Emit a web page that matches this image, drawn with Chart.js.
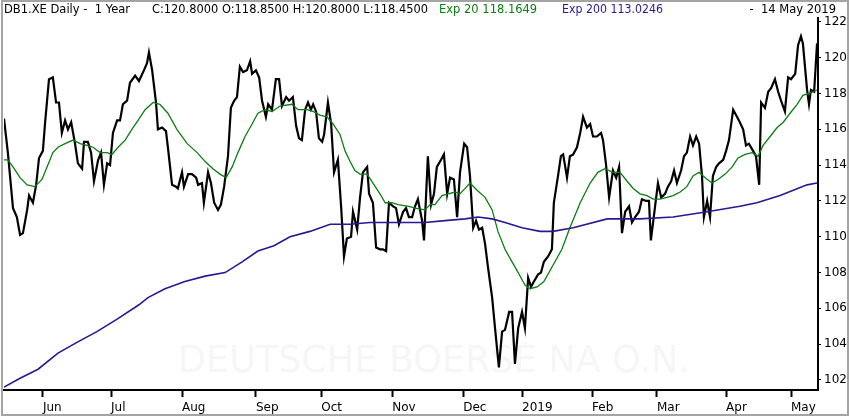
<!DOCTYPE html>
<html>
<head>
<meta charset="utf-8">
<script src="https://cdn.jsdelivr.net/npm/chart.js@4.4.1/dist/chart.umd.min.js"></script>
<style>
  html, body { margin: 0; padding: 0; background: #fff; }
  #wrap { width: 850px; height: 417px; position: relative; }
</style>
</head>
<body>
<div id="wrap"><canvas id="grafico" width="850" height="417"></canvas></div>
<script>
// trading day index (0 = 14 May 2018) and closing prices
const closeDays = [0, 1.2, 2.8, 4, 5, 5.9, 7.2, 7.8, 9, 10, 10.9, 12.1, 12.8, 14, 15.2, 16.2, 17.1, 18, 19, 19.9,
  20.9, 22.1, 23, 24.3, 24.9, 26.1, 27.1, 28, 29.3, 30.2, 31.1, 32.1, 33, 33.9, 35.2, 36.1, 37, 38.3, 39.2, 40.8,
  42, 43.3, 44.5, 45.1, 46.1, 47.3, 47.9, 49.2, 50.4, 51, 52.3, 53.5, 54.1, 55.4, 56, 57.3, 58.5, 59.8, 60.4, 61.6,
  62.2, 63.5, 64.4, 65.4, 66.6, 67.5, 68.5, 69.7, 70.6, 71.6, 72.5, 73.4, 74.4, 75.6, 76.6, 77.2, 78.4, 79.4, 80.3, 81.5,
  82.2, 83.4, 84.6, 85.6, 86.5, 87.8, 88.7, 89.9, 90.9, 91.8, 92.7, 93.7, 94.6, 95.5, 96.2, 97.1, 98, 99, 99.6, 100.8,
  101.8, 102.7, 103.9, 104.9, 105.8, 106.7, 108, 108.6, 109.9, 110.8, 111.7, 113, 113.6, 114.8, 115.8, 117, 117.9, 118.9, 119.8, 121.1,
  122, 122.9, 124.2, 125.1, 126, 127, 127.9, 128.8, 130.1, 130.7, 131.9, 132.9, 133.8, 134.7, 136, 136.9, 137.9, 138.8, 140, 141,
  141.9, 143.2, 144.1, 145, 146, 146.9, 147.8, 148.8, 149.7, 150.6, 151.9, 152.8, 154, 155, 155.9, 157.2, 158.1, 159, 160, 161.2,
  162.1, 163.1, 164, 164.9, 166.2, 167.1, 168, 169.3, 170.5, 171.1, 172.4, 173.3, 174, 175.2, 176.1, 177.1, 178.3, 179.3, 180.2, 181.4,
  182.4, 183.3, 184.5, 185.8, 186.4, 187.3, 188.3, 189.5, 190.5, 191.4, 192.3, 193.3, 194.5, 195.4, 196.4, 197.6, 198.5, 199.8, 200.7, 201.3,
  202.6, 203.5, 204.5, 205.7, 206.6, 207.6, 208.5, 209.4, 210.7, 211.6, 212.5, 213.5, 214.4, 215.4, 216.3, 217.2, 217.8, 218.8, 219.7, 220.6,
  221.6, 222.5, 223.8, 224.7, 225.6, 226.9, 227.8, 228.7, 230, 230.9, 231.8, 233.1, 234, 235, 235.6, 236.8, 237.8, 238.7, 239.9, 240.9,
  241.8, 243, 244, 244.9, 246.2, 247.1, 248, 248.6, 249.9, 250.5, 251.1, 252.1, 253];
const closeValues = [116.6, 114.7, 111.6, 111.1, 110.1, 110.2, 111.5, 112.3, 111.9, 112.9, 114.4, 114.8, 116.4, 118.8, 118.9, 117.5, 117.5, 115.8, 116.5, 116.0,
  116.4, 115.2, 114.1, 113.8, 115.3, 115.3, 114.7, 113.1, 114.3, 114.7, 112.9, 114.1, 114.0, 115.8, 116.5, 116.5, 117.4, 117.6, 118.6, 119.0,
  118.7, 119.2, 119.7, 120.3, 119.3, 117.5, 116.0, 116.1, 115.9, 115.0, 112.9, 112.8, 112.7, 113.6, 112.8, 113.5, 113.5, 113.3, 112.9, 113.0,
  111.9, 113.6, 113.0, 111.9, 111.5, 111.8, 112.8, 114.5, 117.2, 117.6, 117.8, 119.5, 119.2, 119.3, 119.8, 119.1, 119.3, 118.9, 117.6, 116.7,
  117.4, 117.1, 118.8, 118.8, 117.3, 117.8, 117.6, 117.8, 116.2, 115.5, 115.4, 117.1, 117.5, 117.1, 117.4, 117.0, 115.5, 115.3, 115.7, 117.5,
  116.3, 113.6, 114.3, 111.7, 108.9, 109.9, 110.0, 111.4, 110.4, 112.2, 113.6, 113.9, 112.4, 111.9, 109.4, 109.3, 109.3, 109.2, 111.9, 111.7,
  111.6, 110.7, 111.4, 111.6, 111.1, 111.1, 111.7, 112.1, 110.9, 109.8, 114.5, 111.8, 112.4, 113.9, 114.3, 114.6, 112.4, 113.3, 113.2, 111.1,
  113.6, 115.2, 115.0, 113.4, 110.5, 110.9, 110.4, 110.5, 109.6, 108.3, 106.6, 104.9, 102.7, 104.7, 104.8, 105.8, 105.8, 102.9, 104.9, 105.8,
  104.9, 107.7, 107.2, 107.5, 107.9, 108.0, 108.6, 108.9, 109.3, 111.9, 113.4, 114.5, 114.6, 113.3, 114.5, 114.6, 115.0, 115.8, 116.7, 116.1,
  116.3, 115.6, 115.6, 115.8, 115.4, 114.1, 112.2, 113.7, 113.3, 113.9, 110.2, 111.4, 111.7, 110.8, 111.1, 111.4, 112.1, 112.0, 112.0, 109.8,
  111.7, 113.0, 112.2, 112.4, 112.8, 113.1, 113.7, 113.0, 113.7, 114.5, 114.7, 115.6, 115.1, 115.6, 115.2, 113.4, 111.1, 112.0, 111.1, 113.4,
  113.9, 114.1, 114.3, 114.8, 115.4, 117.1, 116.8, 116.5, 116.0, 115.1, 115.2, 114.8, 114.5, 112.9, 117.5, 117.2, 118.1, 118.3, 118.8, 118.1,
  117.6, 117.0, 118.9, 118.8, 119.1, 120.7, 121.2, 120.8, 118.2, 117.4, 118.2, 118.1, 120.8];

// Exp 20
const ema20Days = [0, 1.2, 2.8, 5, 7.2, 9.6, 11.8, 13.4, 15.2, 16.8, 19, 21.5, 23.7, 25.8, 27.7, 29.9, 32.1, 33.6, 35.5, 37.7,
  39.8, 41.7, 43.9, 46.4, 48.5, 51, 53.8, 57, 60.1, 62.6, 65, 67.2, 69.1, 71, 72.8, 75, 77.2, 79, 81.2, 83.4,
  85.9, 89.6, 91.5, 94.3, 96.2, 98.3, 100.5, 102.4, 104.6, 106.1, 107.7, 109.2, 110.8, 113, 114.8, 117, 118.6, 120.7, 122.6, 126,
  127.9, 131, 132.6, 134.1, 136.3, 138.2, 140.4, 141.9, 143.5, 145, 147.2, 149.7, 151.9, 153.7, 155.9, 158.1, 160, 162.1, 163.7, 165.9,
  168, 173.6, 176.1, 179.3, 182.4, 184.8, 187, 189.5, 191.7, 193.9, 195.8, 197.9, 200.1, 202, 204.1, 206.3, 208.2, 210.4, 212.5, 214.4,
  216.3, 218.2, 220.3, 222.2, 224.4, 226.6, 228.4, 230.6, 232.8, 234.7, 236.2, 238.4, 240.6, 242.5, 244.6, 246.8, 248.6, 250.2, 251.8, 253];
const ema20Values = [114.3, 114.3, 113.9, 113.3, 112.9, 112.8, 113.2, 113.9, 114.7, 115.0, 115.2, 115.4, 115.2, 115.1, 115.0, 114.7, 114.7, 114.6, 115.0, 115.4,
  116.0, 116.5, 117.1, 117.5, 117.4, 116.9, 116.0, 115.2, 114.7, 114.2, 113.8, 113.5, 113.3, 113.9, 114.7, 115.6, 116.3, 116.9, 117.1, 117.0,
  117.3, 117.4, 117.1, 117.1, 117.0, 116.8, 116.7, 116.3, 115.7, 114.8, 114.2, 113.7, 113.5, 113.5, 113.0, 112.4, 111.9, 111.9, 111.8, 111.7,
  111.6, 111.5, 111.8, 111.8, 112.3, 112.4, 112.5, 112.4, 112.7, 113.0, 112.6, 112.2, 111.5, 110.3, 109.3, 108.6, 108.0, 107.3, 107.1, 107.2,
  107.5, 109.3, 110.5, 111.9, 113.0, 113.6, 113.8, 113.6, 113.6, 113.1, 112.7, 112.4, 112.3, 112.1, 112.1, 112.2, 112.3, 112.5, 112.8, 113.4,
  113.6, 113.3, 113.0, 113.2, 113.5, 113.9, 114.4, 114.6, 114.7, 114.5, 115.1, 115.6, 116.1, 116.4, 116.9, 117.4, 117.9, 118.0, 118.1, 118.2];

// Exp 200
const ema200Days = [0, 5, 10.6, 16.8, 22.7, 28.9, 35.2, 42, 44.8, 50.1, 56.3, 62.6, 68.8, 74.1, 79, 84, 89, 95.2, 101.5, 107.7,
  113.9, 120.1, 126, 131, 137.2, 143.5, 147.5, 151.9, 155.9, 161.2, 166.8, 170.8, 177.1, 187.7, 197.9, 208.2, 218.8, 229, 234.3, 241.5,
  249.9, 253];
const ema200Values = [101.6, 102.1, 102.6, 103.5, 104.1, 104.7, 105.4, 106.2, 106.6, 107.1, 107.5, 107.8, 108.0, 108.6, 109.2, 109.5, 110.0, 110.3, 110.7, 110.7,
  110.8, 110.8, 110.8, 110.8, 110.9, 111.0, 111.1, 111.0, 110.8, 110.5, 110.3, 110.3, 110.5, 111.0, 111.0, 111.1, 111.4, 111.7, 111.9, 112.3,
  112.9, 113.0];

const monthTickDays = [12.1, 33.3, 55.4, 78.4, 98.7, 120.8, 142.9, 161.2, 183, 203.2, 224.7, 244.9];
const monthTickLabels = ['Jun', 'Jul', 'Aug', 'Sep', 'Oct', 'Nov', 'Dec', '2019', 'Feb', 'Mar', 'Apr', 'May'];
const priceTicks = [102, 104, 106, 108, 110, 112, 114, 116, 118, 120, 122];

const pts = (xs, ys) => xs.map((x, i) => ({ x: x, y: ys[i] }));

const font = '"DejaVu Sans", "Liberation Sans", sans-serif';
const verde = '#0b7d12';
const roxo = '#2d1693';

// moldura, marca d'agua e cabecalho
const extras = {
  id: 'extras',
  beforeDatasetsDraw(chart) {
    const ctx = chart.ctx;
    ctx.save();
    ctx.fillStyle = '#f6f6f6';
    ctx.font = '38px ' + font;
    ctx.textAlign = 'center';
    ctx.textBaseline = 'alphabetic';
    ctx.fillText('DEUTSCHE BOERSE NA O.N.', 434, 372, 512);
    ctx.restore();
  },
  afterDraw(chart) {
    const ctx = chart.ctx;
    ctx.save();
    ctx.strokeStyle = '#a4a4a4';
    ctx.lineWidth = 2;
    ctx.strokeRect(2, 1, 846, 414);

    ctx.font = '11.5px ' + font;
    ctx.textBaseline = 'alphabetic';
    ctx.textAlign = 'left';
    ctx.fillStyle = '#000';
    ctx.fillText('DB1.XE Daily -  1 Year', 4, 13, 133);
    ctx.fillText('C:120.8000 O:118.8500 H:120.8000 L:118.4500', 152, 13, 276);
    ctx.fillStyle = verde;
    ctx.fillText('Exp 20 118.1649', 439, 13, 116);
    ctx.fillStyle = roxo;
    ctx.fillText('Exp 200 113.0246', 562, 13, 101);
    ctx.fillStyle = '#000';
    ctx.textAlign = 'right';
    ctx.fillText('-  14 May 2019', 836, 13, 92);
    ctx.restore();
  }
};

const ctx = document.getElementById('grafico');
new Chart(ctx, {
  type: 'line',
  data: {
    datasets: [
      { label: 'Exp 200', data: pts(ema200Days, ema200Values), borderColor: roxo, borderWidth: 1.6, pointRadius: 0, tension: 0 },
      { label: 'Exp 20', data: pts(ema20Days, ema20Values), borderColor: verde, borderWidth: 1.3, pointRadius: 0, tension: 0 },
      { label: 'DB1.XE', data: pts(closeDays, closeValues), borderColor: '#000', borderWidth: 2.2, pointRadius: 0, tension: 0 }
    ]
  },
  options: {
    responsive: false,
    animation: false,
    layout: { padding: { top: 18, left: 4, right: 0, bottom: 0 } },
    plugins: { legend: { display: false }, tooltip: { enabled: false } },
    scales: {
      x: {
        type: 'linear',
        min: 0,
        max: 253.3,
        afterBuildTicks: (scale) => { scale.ticks = monthTickDays.map(v => ({ value: v })); },
        afterFit: (scale) => { scale.height = 27; },
        grid: { drawOnChartArea: false, drawTicks: true, tickLength: 7, tickWidth: 2, color: '#000' },
        border: { display: true, color: '#000', width: 2 },
        ticks: {
          autoSkip: false,
          maxRotation: 0,
          align: 'start',
          padding: 4,
          color: '#000',
          font: { family: font, size: 12 },
          callback: (v, i) => monthTickLabels[i]
        }
      },
      y: {
        position: 'right',
        min: 101.44,
        max: 122.22,
        afterBuildTicks: (scale) => { scale.ticks = priceTicks.map(v => ({ value: v })); },
        afterFit: (scale) => { scale.width = 32; },
        grid: { drawOnChartArea: false, drawTicks: true, tickLength: 3, tickWidth: 1, color: '#000' },
        border: { display: true, color: '#000', width: 2 },
        ticks: {
          autoSkip: false,
          padding: 3,
          color: '#000',
          font: { family: font, size: 12 },
          callback: (v) => String(v)
        }
      }
    }
  },
  plugins: [extras]
});
</script>
</body>
</html>
